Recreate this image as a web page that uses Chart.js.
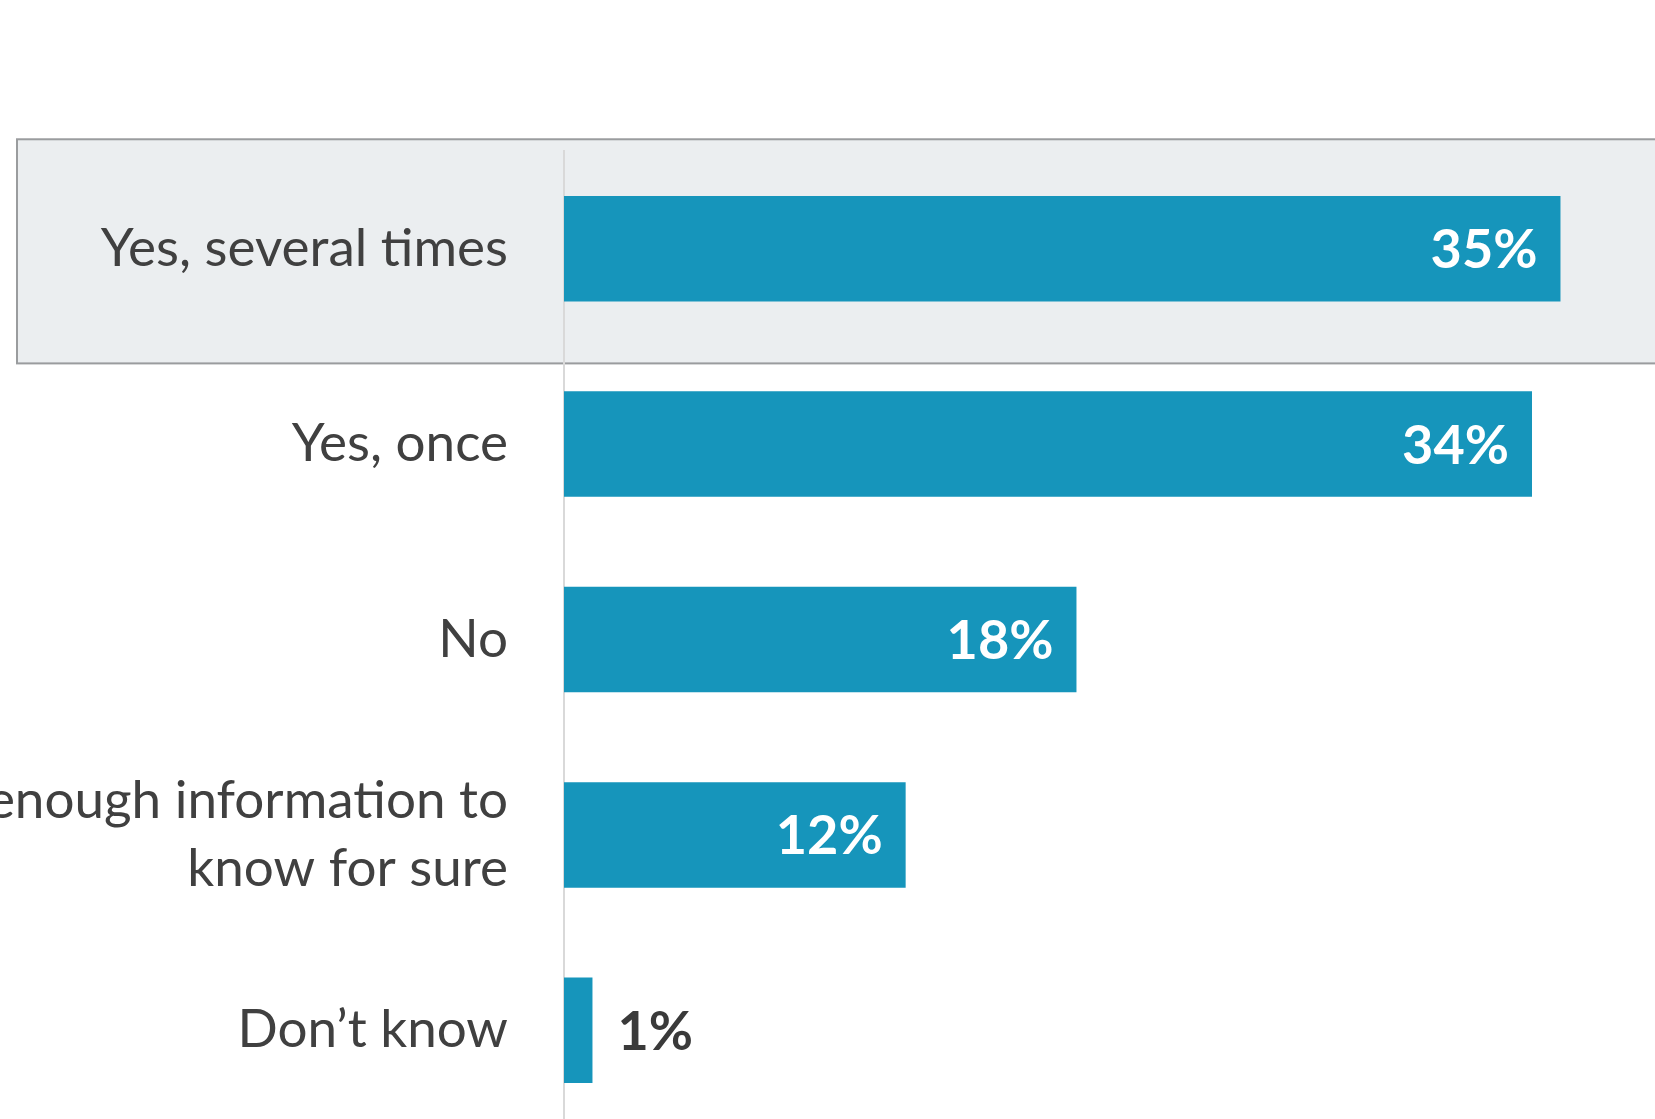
<!DOCTYPE html>
<html>
<head>
<meta charset="utf-8">
<script src="https://cdn.jsdelivr.net/npm/chart.js@4/dist/chart.umd.min.js"></script>
<style>
  html, body { margin: 0; padding: 0; background: #fff; overflow: hidden; }
  canvas { display: block; }
</style>
</head>
<body>
<canvas id="chart" width="1655" height="1128"></canvas>
<script>
// answers and share of respondents (%)
const categories = [
  'Yes, several times',
  'Yes, once',
  'No',
  ['Not enough information to', 'know for sure'],
  'Don\u2019t know'
];
const shares = [35, 34, 18, 12, 1];
const highlightIndex = 0;

const barColor = '#1695bb';
const textColor = '#404040';

// grey box behind the highlighted answer
const highlightBox = {
  id: 'highlightBox',
  beforeDraw(chart) {
    const { ctx } = chart;
    const y = chart.scales.y;
    const step = y.getPixelForValue(1) - y.getPixelForValue(0);
    const center = y.getPixelForValue(highlightIndex);
    const top = center - step * 0.56;
    const bottom = center + step * 0.587;
    ctx.save();
    ctx.fillStyle = '#ebeef0';
    ctx.fillRect(17, top, chart.width, bottom - top);
    ctx.strokeStyle = '#9a9c9e';
    ctx.lineWidth = 2;
    ctx.strokeRect(17, top, chart.width + 10, bottom - top);
    ctx.restore();
  }
};

// percentage labels, inside the bar when it is wide enough
const valueLabels = {
  id: 'valueLabels',
  afterDatasetsDraw(chart) {
    const { ctx } = chart;
    const meta = chart.getDatasetMeta(0);
    ctx.save();
    ctx.font = 'bold 54px Lato';
    ctx.textBaseline = 'middle';
    meta.data.forEach((bar, i) => {
      const txt = shares[i] + '%';
      if (shares[i] >= 5) {
        ctx.fillStyle = '#ffffff';
        ctx.textAlign = 'right';
        ctx.fillText(txt, bar.x - 23, bar.y + 2);
      } else {
        ctx.fillStyle = '#3a3a3a';
        ctx.textAlign = 'left';
        ctx.fillText(txt, bar.x + 25, bar.y + 2);
      }
    });
    ctx.restore();
  }
};

new Chart(document.getElementById('chart'), {
  type: 'bar',
  data: {
    labels: categories,
    datasets: [{
      data: shares,
      backgroundColor: barColor,
      borderWidth: 0,
      barPercentage: 0.54,
      categoryPercentage: 1
    }]
  },
  options: {
    indexAxis: 'y',
    responsive: false,
    animation: false,
    layout: { padding: { top: 151, right: 0, bottom: 0, left: 0 } },
    plugins: {
      legend: { display: false },
      tooltip: { enabled: false }
    },
    scales: {
      x: {
        display: false,
        min: 0,
        max: 38.32
      },
      y: {
        afterFit(scale) {
          scale.width = 564;
          // labels sit beside the bars, no extra room above/below
          scale.paddingTop = 0;
          scale.paddingBottom = 0;
        },
        grid: { display: false, drawTicks: false },
        border: { display: true, color: '#d9d9d9', width: 2 },
        ticks: {
          color: textColor,
          padding: 56,
          autoSkip: false,
          font: { family: 'Lato', size: 53, lineHeight: 1.3 }
        }
      }
    }
  },
  plugins: [highlightBox, valueLabels]
});
</script>
</body>
</html>
